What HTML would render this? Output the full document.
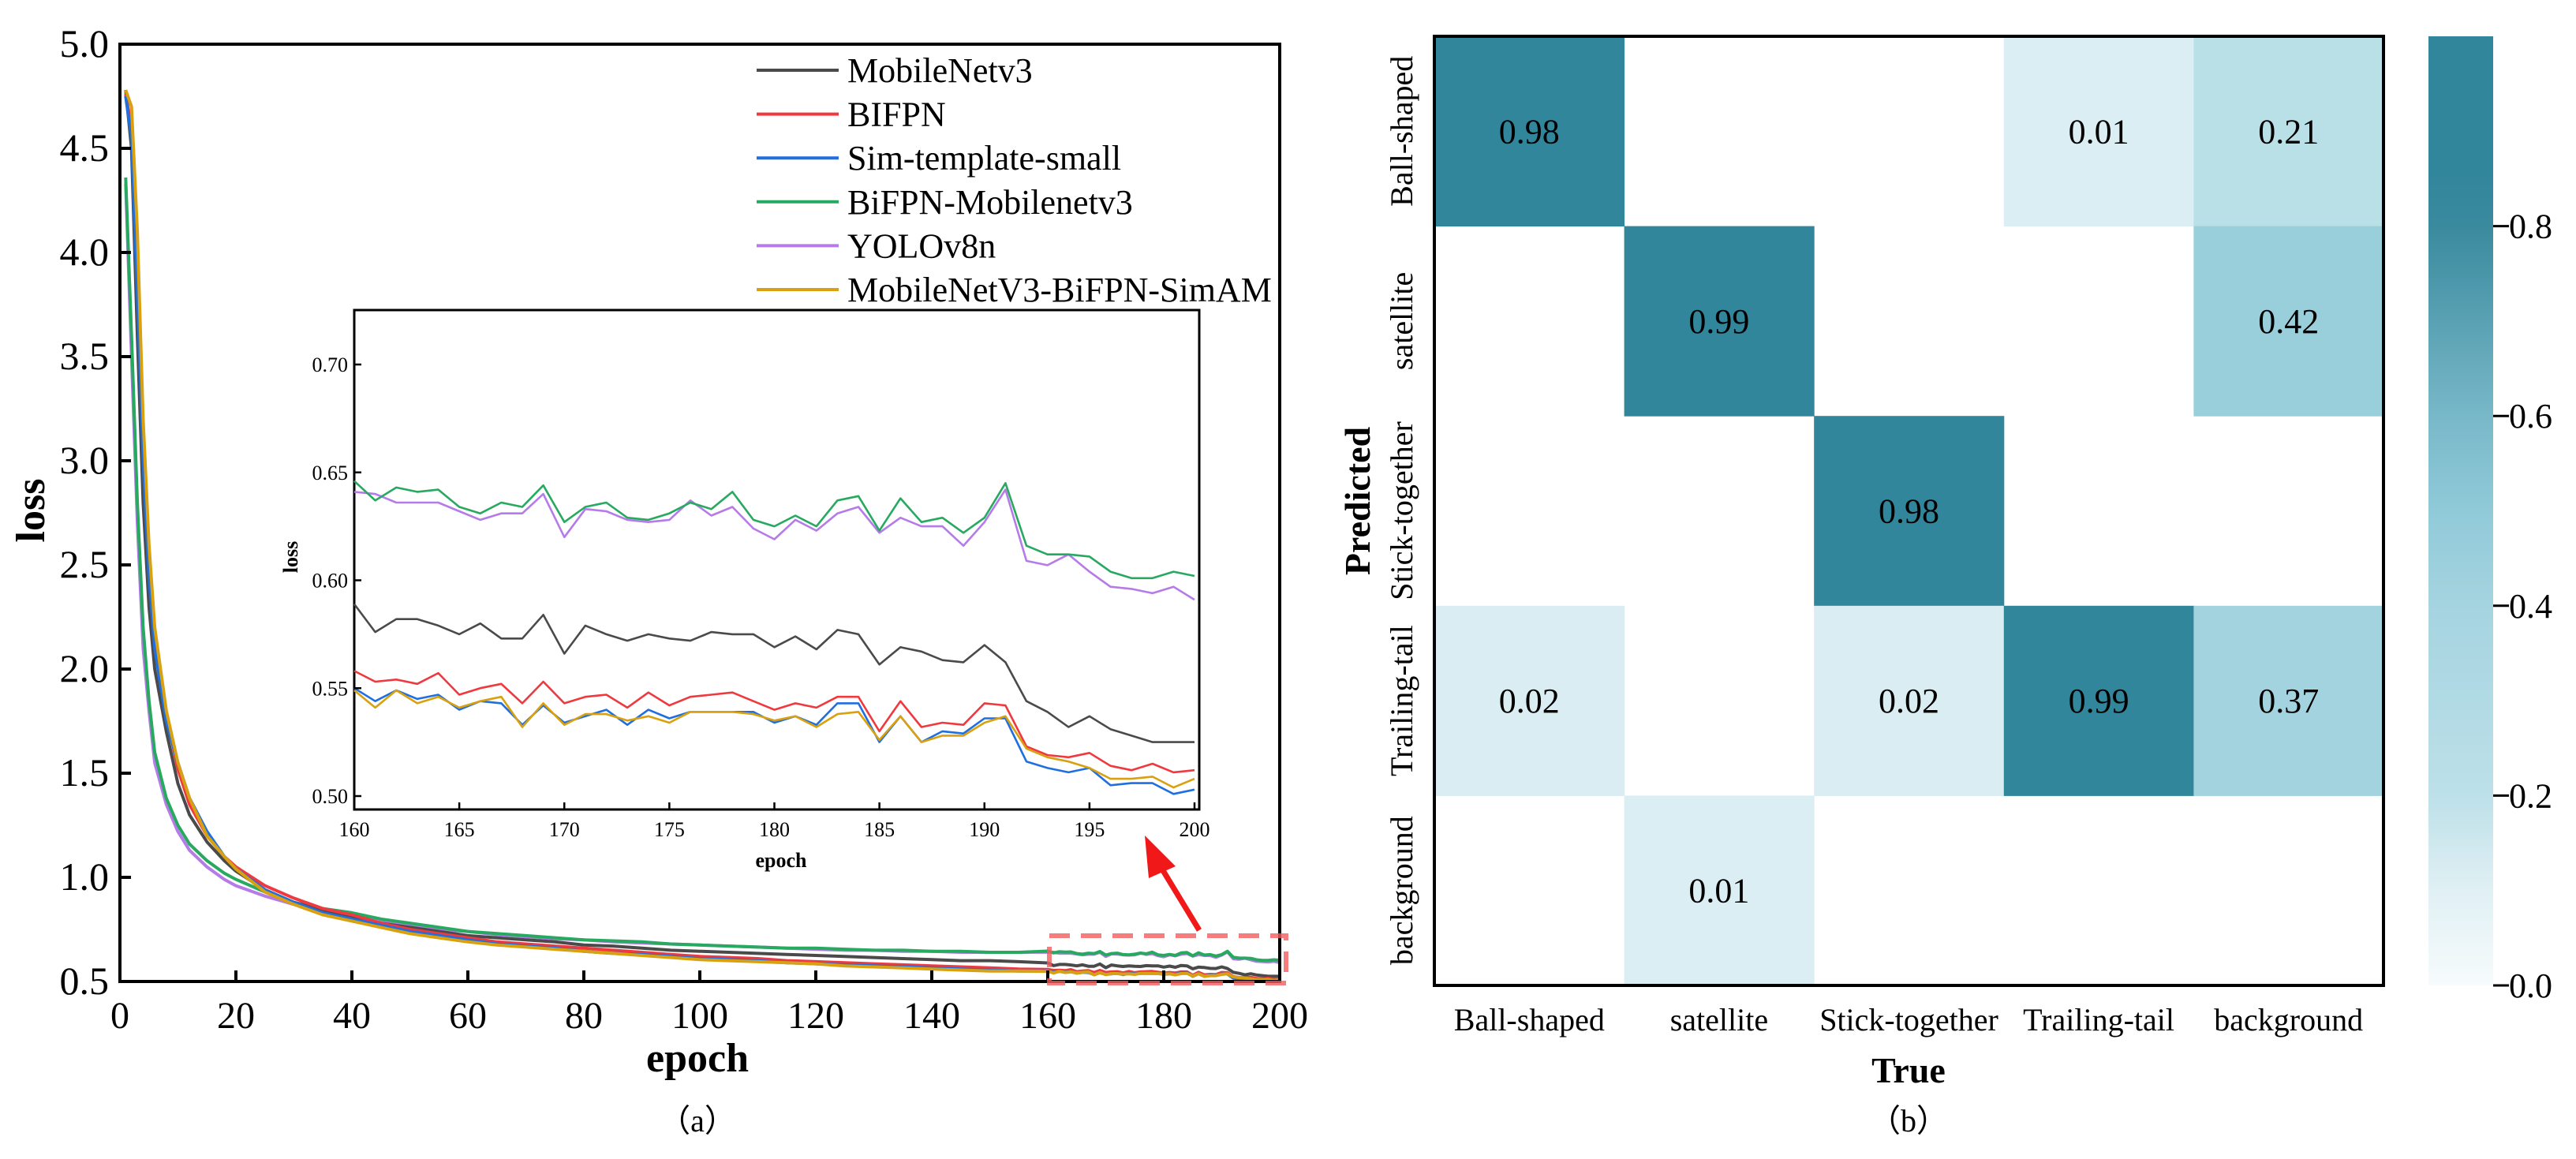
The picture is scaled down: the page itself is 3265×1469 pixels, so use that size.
<!DOCTYPE html>
<html><head><meta charset="utf-8"><style>
html,body{margin:0;padding:0;background:#fff;}
svg{display:block;font-family:"Liberation Serif",serif;}
</style></head><body>
<svg id="fig" width="3265" height="1469" viewBox="0 0 3265 1469" xmlns="http://www.w3.org/2000/svg">
<g id="left"></g>
<g id="right"></g>
</svg>
<script>
// ---------- Loss chart data ----------
const seriesNames = ["MobileNetv3","BIFPN","Sim-template-small","BiFPN-Mobilenetv3","YOLOv8n","MobileNetV3-BiFPN-SimAM"];
const seriesColors = ["#4a4a4a","#f0393f","#1f6fe0","#27a960","#b57be8","#d9a010"];
const earlyEpochs = [1,2,3,4,5,6,8,10,12,15,18,20,25,30,35,40,45,50,55,60,65,70,75,80,85,90,95,100,105,110,115,120,125,130,135,140,145,150,155];
const earlyBlack = [4.78,4.5,3.6,2.8,2.3,2.0,1.7,1.45,1.3,1.17,1.08,1.03,0.94,0.88,0.84,0.81,0.78,0.76,0.74,0.72,0.71,0.70,0.69,0.675,0.67,0.66,0.65,0.645,0.64,0.635,0.63,0.625,0.62,0.615,0.61,0.605,0.60,0.60,0.595];
const earlyRed = [4.76,4.6,3.9,3.1,2.5,2.15,1.78,1.52,1.35,1.2,1.1,1.05,0.96,0.9,0.85,0.82,0.78,0.75,0.73,0.71,0.69,0.68,0.67,0.66,0.65,0.64,0.63,0.62,0.615,0.61,0.60,0.595,0.59,0.585,0.58,0.575,0.57,0.565,0.56];
const earlyBlue = [4.75,4.55,3.8,3.0,2.45,2.1,1.75,1.55,1.38,1.22,1.1,1.04,0.94,0.88,0.83,0.80,0.77,0.74,0.72,0.70,0.68,0.67,0.66,0.645,0.635,0.63,0.62,0.61,0.605,0.60,0.59,0.585,0.58,0.575,0.57,0.565,0.56,0.555,0.55];
const earlyGreen = [4.36,3.6,2.8,2.2,1.85,1.6,1.38,1.25,1.16,1.08,1.02,0.99,0.93,0.88,0.85,0.83,0.80,0.78,0.76,0.74,0.73,0.72,0.71,0.70,0.695,0.69,0.68,0.675,0.67,0.665,0.66,0.66,0.655,0.65,0.65,0.645,0.645,0.64,0.64];
const earlyPurple = [4.33,3.5,2.7,2.1,1.8,1.55,1.35,1.22,1.13,1.05,0.99,0.96,0.91,0.87,0.84,0.82,0.79,0.77,0.75,0.74,0.725,0.715,0.705,0.70,0.69,0.685,0.68,0.675,0.67,0.665,0.66,0.655,0.65,0.65,0.645,0.645,0.64,0.64,0.64];
const earlyOrange = [4.78,4.7,4.1,3.2,2.6,2.2,1.8,1.55,1.38,1.2,1.1,1.04,0.93,0.87,0.82,0.79,0.76,0.73,0.71,0.69,0.675,0.665,0.655,0.645,0.635,0.625,0.615,0.605,0.60,0.595,0.59,0.585,0.575,0.57,0.565,0.56,0.555,0.55,0.55];
const lateEpochs = [160,161,162,163,164,165,166,167,168,169,170,171,172,173,174,175,176,177,178,179,180,181,182,183,184,185,186,187,188,189,190,191,192,193,194,195,196,197,198,199,200];
const lateBlack = [0.589,0.576,0.582,0.582,0.579,0.575,0.580,0.573,0.573,0.584,0.566,0.579,0.575,0.572,0.575,0.573,0.572,0.576,0.575,0.575,0.569,0.574,0.568,0.577,0.575,0.561,0.569,0.567,0.563,0.562,0.570,0.562,0.544,0.539,0.532,0.537,0.531,0.528,0.525,0.525,0.525];
const lateRed = [0.558,0.553,0.554,0.552,0.557,0.547,0.550,0.552,0.543,0.553,0.543,0.546,0.547,0.541,0.548,0.542,0.546,0.547,0.548,0.544,0.540,0.543,0.541,0.546,0.546,0.530,0.544,0.532,0.534,0.533,0.543,0.542,0.523,0.519,0.518,0.520,0.514,0.512,0.515,0.511,0.512];
const lateBlue = [0.550,0.544,0.549,0.545,0.547,0.540,0.544,0.543,0.533,0.542,0.534,0.537,0.540,0.533,0.540,0.536,0.539,0.539,0.539,0.539,0.534,0.537,0.533,0.543,0.543,0.525,0.537,0.525,0.530,0.529,0.536,0.536,0.516,0.513,0.511,0.513,0.505,0.506,0.506,0.501,0.503];
const lateGreen = [0.646,0.637,0.643,0.641,0.642,0.634,0.631,0.636,0.634,0.644,0.627,0.634,0.636,0.629,0.628,0.631,0.636,0.633,0.641,0.628,0.625,0.630,0.625,0.637,0.639,0.623,0.638,0.627,0.629,0.622,0.629,0.645,0.616,0.612,0.612,0.611,0.604,0.601,0.601,0.604,0.602];
const latePurple = [0.641,0.640,0.636,0.636,0.636,0.632,0.628,0.631,0.631,0.640,0.620,0.633,0.632,0.628,0.627,0.628,0.637,0.630,0.634,0.624,0.619,0.628,0.623,0.631,0.634,0.622,0.629,0.625,0.625,0.616,0.627,0.642,0.609,0.607,0.612,0.604,0.597,0.596,0.594,0.597,0.591];
const lateOrange = [0.549,0.541,0.549,0.543,0.546,0.541,0.544,0.546,0.532,0.543,0.533,0.538,0.538,0.535,0.537,0.534,0.539,0.539,0.539,0.538,0.535,0.537,0.532,0.538,0.539,0.526,0.537,0.525,0.528,0.528,0.534,0.537,0.522,0.518,0.516,0.513,0.508,0.508,0.509,0.504,0.508];
const mainYTicks = ["0.5","1.0","1.5","2.0","2.5","3.0","3.5","4.0","4.5","5.0"];
const mainXTicks = ["0","20","40","60","80","100","120","140","160","180","200"];
const insetYTicks = ["0.50","0.55","0.60","0.65","0.70"];
const insetXTicks = ["160","165","170","175","180","185","190","195","200"];

// ---------- Confusion matrix data ----------
const cmLabels = ["Ball-shaped","satellite","Stick-together","Trailing-tail","background"];
const cmRow0 = [0.98,0,0,0.01,0.21];
const cmRow1 = [0,0.99,0,0,0.42];
const cmRow2 = [0,0,0.98,0,0];
const cmRow3 = [0.02,0,0.02,0.99,0.37];
const cmRow4 = [0,0.01,0,0,0];
const cbTicks = ["0.0","0.2","0.4","0.6","0.8"];

const NS="http://www.w3.org/2000/svg";
function mk(tag, attrs, parent, text){
  const e=document.createElementNS(NS,tag);
  for(const k in attrs) e.setAttribute(k,attrs[k]);
  if(text!==undefined) e.textContent=text;
  parent.appendChild(e); return e;
}
const L=document.getElementById('left');
const R=document.getElementById('right');

// main axes
const mX0=152,mX1=1622,mY0=1244,mY1=56;
const mx=v=>mX0+(v-0)/200*(mX1-mX0);
const my=v=>mY0-(v-0.5)/4.5*(mY0-mY1);
const blackAll=earlyBlack.concat(lateBlack), redAll=earlyRed.concat(lateRed), blueAll=earlyBlue.concat(lateBlue),
 greenAll=earlyGreen.concat(lateGreen), purpleAll=earlyPurple.concat(latePurple), orangeAll=earlyOrange.concat(lateOrange);
const epochsAll=earlyEpochs.concat(lateEpochs);
const mainSeries=[blackAll,redAll,blueAll,greenAll,purpleAll,orangeAll];
const lateSeries=[lateBlack,lateRed,lateBlue,lateGreen,latePurple,lateOrange];

const cp=mk('clipPath',{id:'mclip'},L);
mk('rect',{x:mX0,y:mY1,width:mX1-mX0+6,height:mY0-mY1},cp);

const order=[4,3,0,1,2,5];
order.forEach(i=>{
  const d=mainSeries[i].map((v,j)=>(j?'L':'M')+mx(epochsAll[j]).toFixed(1)+' '+my(v).toFixed(1)).join(' ');
  const p=mk('path',{d:d,fill:'none',stroke:seriesColors[i],'stroke-width':4,'stroke-linejoin':'round','clip-path':'url(#mclip)'},L);
  
  
});
const mf=mk('rect',{x:mX0,y:mY1,width:mX1-mX0,height:mY0-mY1,fill:'none',stroke:'#000','stroke-width':4},L);

mainYTicks.forEach(s=>{
  const y=my(parseFloat(s));
  const tk=mk('line',{x1:mX0,x2:mX0+14,y1:y,y2:y,stroke:'#000','stroke-width':4},L);
  
  const tx=mk('text',{x:mX0-14,y:y+16,'font-size':50,'text-anchor':'end'},L,s);
  
});
mainXTicks.forEach(s=>{
  const x=mx(parseFloat(s));
  const tk=mk('line',{x1:x,x2:x,y1:mY0,y2:mY0-14,stroke:'#000','stroke-width':4},L);
  
  const tx=mk('text',{x:x,y:1303,'font-size':48,'text-anchor':'middle'},L,s);
  
});
let t=mk('text',{x:884,y:1358,'font-size':52,'font-weight':'bold','text-anchor':'middle'},L,'epoch');

t=mk('text',{x:0,y:0,'font-size':52,'font-weight':'bold','text-anchor':'middle',transform:'translate(56,647) rotate(-90)'},L,'loss');

t=mk('text',{x:884,y:1434,'font-size':40,'text-anchor':'middle'},L,'（a）');


// legend
seriesNames.forEach((n,i)=>{
  const y=89+i*55.6;
  const g=mk('g',{},L);
  
  
  mk('line',{x1:959,x2:1063,y1:y,y2:y,stroke:seriesColors[i],'stroke-width':4},g);
  mk('text',{x:1074,y:y+15,'font-size':44},g,n);
});

// dashed highlight + arrow
const hb=mk('rect',{x:1330,y:1186,width:300,height:60,fill:'none',stroke:'#f25c5c','stroke-width':6,'stroke-dasharray':'26 14',opacity:0.8},L);

const ar=mk('g',{},L);

mk('line',{x1:1520,y1:1179,x2:1472,y2:1100,stroke:'#f01818','stroke-width':7},ar);
mk('polygon',{points:'1451,1059 1490,1098 1456,1113',fill:'#f01818'},ar);

// inset
const iX0=449,iX1=1520,iY0=1026,iY1=393;
const ix=v=>iX0+(v-160)/40*(1514-iX0);
const iy=v=>1009-(v-0.5)/0.2*(1009-462);
const ibg=mk('rect',{x:iX0,y:iY1,width:iX1-iX0,height:iY0-iY1,fill:'#fff',stroke:'#000','stroke-width':3},L);

order.forEach(i=>{
  const d=lateSeries[i].map((v,j)=>(j?'L':'M')+ix(lateEpochs[j]).toFixed(1)+' '+iy(v).toFixed(1)).join(' ');
  const p=mk('path',{d:d,fill:'none',stroke:seriesColors[i],'stroke-width':2.6,'stroke-linejoin':'round'},L);
  
  
});
insetYTicks.forEach(s=>{
  const y=iy(parseFloat(s));
  const tk=mk('line',{x1:iX0,x2:iX0+9,y1:y,y2:y,stroke:'#000','stroke-width':2.5},L);
  
  const tx=mk('text',{x:iX0-8,y:y+9,'font-size':26,'text-anchor':'end'},L,s);
  
});
insetXTicks.forEach(s=>{
  const x=ix(parseFloat(s));
  const tk=mk('line',{x1:x,x2:x,y1:iY0,y2:iY0-9,stroke:'#000','stroke-width':2.5},L);
  
  const tx=mk('text',{x:x,y:1060,'font-size':26,'text-anchor':'middle'},L,s);
  
});
t=mk('text',{x:990,y:1099,'font-size':26,'font-weight':'bold','text-anchor':'middle'},L,'epoch');

t=mk('text',{x:0,y:0,'font-size':26,'font-weight':'bold','text-anchor':'middle',transform:'translate(377,706) rotate(-90)'},L,'loss');


// ---------- Confusion matrix ----------
const hX0=1818,hX1=3021,hY0=46,hY1=1249;
const cw=(hX1-hX0)/5, ch=(hY1-hY0)/5;
const stops=[[0,[247,251,252]],[0.01,[219,238,243]],[0.21,[185,223,231]],[0.37,[163,211,223]],[0.45,[147,203,217]],[0.6,[120,184,200]],[0.8,[58,138,158]],[0.88,[49,134,155]],[1,[49,134,155]]];
function cmap(v){
  for(let k=1;k<stops.length;k++){
    if(v<=stops[k][0]){const a=stops[k-1],b=stops[k];const f=(v-a[0])/(b[0]-a[0]);
      return 'rgb('+a[1].map((c,j)=>Math.round(c+(b[1][j]-c)*f)).join(',')+')';}
  }
  return 'rgb(49,134,155)';
}
const cmRows=[cmRow0,cmRow1,cmRow2,cmRow3,cmRow4];
cmRows.forEach((row,r)=>row.forEach((v,c)=>{
  if(v<=0) return;
  const cell=mk('rect',{x:hX0+c*cw,y:hY0+r*ch,width:cw+0.5,height:ch+0.5,fill:cmap(v)},R);
  
  
  const tx=mk('text',{x:hX0+(c+0.5)*cw,y:hY0+(r+0.5)*ch+15,'font-size':44,'text-anchor':'middle'},R,v.toFixed(2));
  
  
}));
const hf=mk('rect',{x:hX0,y:hY0,width:hX1-hX0,height:hY1-hY0,fill:'none',stroke:'#000','stroke-width':4},R);

cmLabels.forEach((s,i)=>{
  const x=mk('text',{x:hX0+(i+0.5)*cw,y:1306,'font-size':40,'text-anchor':'middle'},R,s);
  
  const y=mk('text',{x:0,y:0,'font-size':40,'text-anchor':'middle',transform:'translate(1790,'+(hY0+(i+0.5)*ch)+') rotate(-90)'},R,s);
  
});
t=mk('text',{x:2419,y:1372,'font-size':46,'font-weight':'bold','text-anchor':'middle'},R,'True');

t=mk('text',{x:0,y:0,'font-size':46,'font-weight':'bold','text-anchor':'middle',transform:'translate(1736,635) rotate(-90)'},R,'Predicted');

t=mk('text',{x:2419,y:1434,'font-size':40,'text-anchor':'middle'},R,'（b）');


// colorbar
const defs=mk('defs',{},R);
const lg=mk('linearGradient',{id:'cbg',x1:0,y1:1,x2:0,y2:0},defs);
[[0,'#f7fbfc'],[0.1,'#e0f0f4'],[0.2,'#bde0e9'],[0.4,'#a5d4e0'],[0.5,'#90cad9'],[0.6,'#78b8c8'],[0.8,'#3a8a9e'],[0.86,'#31869b'],[1,'#31869b']].forEach(s=>mk('stop',{offset:s[0],'stop-color':s[1]},lg));
const cbX=3078,cbW=82,cbTop=46,cbBot=1249;
const cby=v=>cbBot-v*(cbBot-cbTop);
const cb=mk('rect',{x:cbX,y:cbTop,width:cbW,height:cbBot-cbTop,fill:'url(#cbg)'},R);

cbTicks.forEach(s=>{
  const y=cby(parseFloat(s));
  const tk=mk('line',{x1:cbX+cbW,x2:cbX+cbW+20,y1:y,y2:y,stroke:'#000','stroke-width':3},R);
  
  const tx=mk('text',{x:cbX+cbW+20,y:y+15,'font-size':44},R,s);
  
});
</script>
</body></html>
